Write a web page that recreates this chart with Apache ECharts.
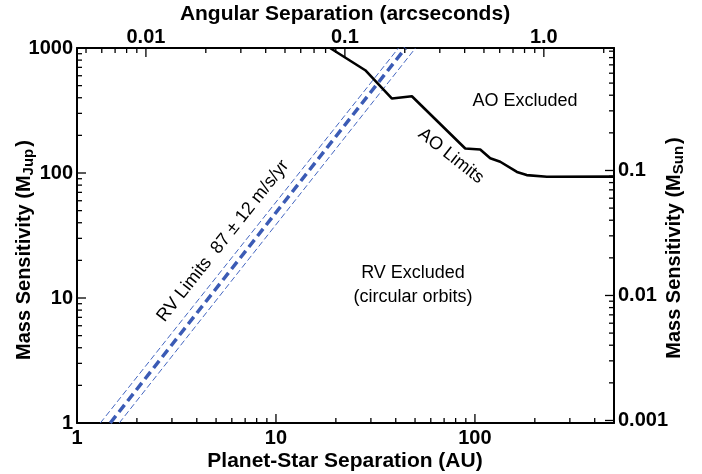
<!DOCTYPE html>
<html><head><meta charset="utf-8">
<script src="https://cdn.jsdelivr.net/npm/echarts@6/dist/echarts.min.js"></script>
<style>html,body{margin:0;padding:0;background:#fff}#c{width:702px;height:474px}</style>
</head><body><div id="c"></div>
<script>
// ---- data ----
const DIST_PC = 222;            // distance used for the angular-separation axis
const MJUP_PER_MSUN = 1047.6;   // mass conversion for right axis
const auRange = [1, 500];
const mjupRange = [1, 1000];
const auMajor = [10, 100];
const auMinor = [2,3,4,5,6,7,8,9,20,30,40,50,60,70,80,90,200,300,400];
const mjupMajor = [10, 100];
const mjupMinor = [2,3,4,5,6,7,8,9,20,30,40,50,60,70,80,90,200,300,400,500,600,700,800,900];
const arcsecTickLabels = ['0.01','0.1','1.0'];
const arcsecMajor = [0.01, 0.1, 1];
const arcsecMinor = [0.005,0.006,0.007,0.008,0.009,0.02,0.03,0.04,0.05,0.06,0.07,0.08,0.09,0.2,0.3,0.4,0.5,0.6,0.7,0.8,0.9,2];
const msunTickLabels = ['0.001','0.01','0.1'];
const msunMajor = [0.001, 0.01, 0.1];
const msunMinor = [0.002,0.003,0.004,0.005,0.006,0.007,0.008,0.009,0.02,0.03,0.04,0.05,0.06,0.07,0.08,0.09,0.2,0.3,0.4,0.5,0.6,0.7,0.8,0.9];
// AO detection limits
const aoSep  = [18.7, 28.1, 38.3, 48.2, 89.4, 106.3, 119.4, 134, 162.6, 182, 230, 500];
const aoMass = [1000, 664, 394, 411, 157, 154, 131, 123, 102, 96.2, 93.3, 93.5];
// RV trend limits (87 +/- 12 m/s/yr)
const rvCenterSep = [1.47, 44.8];
const rvHighSep   = [1.31, 41.3];
const rvLowSep    = [1.63, 50.3];
const rvMass      = [1, 1000];

// ---- layout ----
const W = 702, H = 474;
const GRID = { left: 77, top: 48, right: 88, bottom: 51 };
const MAJOR_LEN = 9, MINOR_LEN = 5;
const pxPerDecX = (W - GRID.left - GRID.right) / Math.log10(auRange[1] / auRange[0]);
const pxPerDecY = (H - GRID.top - GRID.bottom) / Math.log10(mjupRange[1] / mjupRange[0]);
const fx = len => Math.pow(10, len / pxPerDecX);   // log-space factor for a tick of len px along x
const fy = len => Math.pow(10, len / pxPerDecY);

const zip = (xs, ys) => xs.map((x, i) => [x, ys[i]]);
const isPow10 = v => Math.abs(Math.log10(v) - Math.round(Math.log10(v))) < 1e-6;
const FONT = '"Liberation Sans", Arial, Helvetica, sans-serif';
const labelStyle = () => ({ color: '#000', fontWeight: 'bold', fontSize: 20, fontFamily: FONT });

// tick marks drawn as short line segments through the axes' own scales
const tickSeries = [];
function addTicks(values, len, xi, yi, seg) {
  values.forEach(v => tickSeries.push({
    type: 'line', xAxisIndex: xi, yAxisIndex: yi, data: seg(v, len), symbol: 'none', showSymbol: false,
    silent: true, clip: false, z: 6, lineStyle: { color: '#000', width: 1.3 }
  }));
}
const segBottom = (v, l) => [[v, mjupRange[0]], [v, mjupRange[0] * fy(l)]];
const segTop    = (v, l) => [[v, mjupRange[1]], [v, mjupRange[1] / fy(l)]];
const segLeft   = (v, l) => [[auRange[0], v], [auRange[0] * fx(l), v]];
const segRight  = (v, l) => [[auRange[1], v], [auRange[1] / fx(l), v]];
addTicks(auMajor, MAJOR_LEN, 0, 0, segBottom);
addTicks(auMinor, MINOR_LEN, 0, 0, segBottom);
addTicks(arcsecMajor, MAJOR_LEN, 1, 0, segTop);
addTicks(arcsecMinor, MINOR_LEN, 1, 0, segTop);
addTicks(mjupMajor, MAJOR_LEN, 0, 0, segLeft);
addTicks(mjupMinor, MINOR_LEN, 0, 0, segLeft);
addTicks(msunMajor, MAJOR_LEN, 0, 1, segRight);
addTicks(msunMinor, MINOR_LEN, 0, 1, segRight);

const axisLine = () => ({ show: true, lineStyle: { color: '#000', width: 2 } });
const noTick = () => ({ show: false });

const chart = echarts.init(document.getElementById('c'));
chart.setOption({
  animation: false,
  backgroundColor: '#fff',
  grid: GRID,
  xAxis: [
    { type: 'log', logBase: 10, min: auRange[0], max: auRange[1], position: 'bottom',
      axisLine: axisLine(), axisTick: noTick(), splitLine: { show: false },
      axisLabel: Object.assign({ margin: 5, formatter: v => isPow10(v) ? String(Math.round(v)) : '' }, labelStyle()) },
    { type: 'log', logBase: 10, min: auRange[0] / DIST_PC, max: auRange[1] / DIST_PC, position: 'top',
      axisLine: axisLine(), axisTick: noTick(), splitLine: { show: false },
      axisLabel: Object.assign({ margin: 1, showMinLabel: false, showMaxLabel: false,
        formatter: v => isPow10(v) ? arcsecTickLabels[Math.round(Math.log10(v)) + 2] : '' }, labelStyle()) }
  ],
  yAxis: [
    { type: 'log', logBase: 10, min: mjupRange[0], max: mjupRange[1], position: 'left',
      axisLine: axisLine(), axisTick: noTick(), splitLine: { show: false },
      axisLabel: Object.assign({ margin: 4, formatter: v => isPow10(v) ? String(Math.round(v)) : '' }, labelStyle()) },
    { type: 'log', logBase: 10, min: mjupRange[0] / MJUP_PER_MSUN, max: mjupRange[1] / MJUP_PER_MSUN, position: 'right',
      axisLine: axisLine(), axisTick: noTick(), splitLine: { show: false },
      axisLabel: Object.assign({ margin: 4, showMinLabel: false, showMaxLabel: false,
        formatter: v => isPow10(v) ? msunTickLabels[Math.round(Math.log10(v)) + 3] : '' }, labelStyle()) }
  ],
  series: [
    { type: 'line', name: 'RV high', data: zip(rvHighSep, rvMass), showSymbol: false, symbol: 'none',
      lineStyle: { color: '#4466C0', width: 1, type: [6, 3] }, z: 3 },
    { type: 'line', name: 'RV low', data: zip(rvLowSep, rvMass), showSymbol: false, symbol: 'none',
      lineStyle: { color: '#4466C0', width: 1, type: [6, 3] }, z: 3 },
    { type: 'line', name: 'RV center', data: zip(rvCenterSep, rvMass), showSymbol: false, symbol: 'none',
      lineStyle: { color: '#3B5BB5', width: 3.5, type: [9, 5] }, z: 3 },
    { type: 'line', name: 'AO', data: zip(aoSep, aoMass), showSymbol: false, symbol: 'none',
      lineStyle: { color: '#000', width: 2.6 }, z: 4 }
  ].concat(tickSeries),
  graphic: [
    { type: 'text', x: 345, y: 14, style: { text: 'Angular Separation (arcseconds)', font: 'bold 21px ' + FONT, fill: '#000', align: 'center', verticalAlign: 'middle' } },
    { type: 'text', x: 345, y: 461, style: { text: 'Planet-Star Separation (AU)', font: 'bold 21px ' + FONT, fill: '#000', align: 'center', verticalAlign: 'middle' } },
    { type: 'text', x: 24, y: 250, rotation: Math.PI / 2,
      style: { text: '{a|Mass Sensitivity (M}{s|Jup}{a|)}', align: 'center', verticalAlign: 'middle', fill: '#000',
        rich: { a: { font: 'bold 20px ' + FONT, fill: '#000', lineHeight: 24 }, s: { font: 'bold 15px ' + FONT, fill: '#000', padding: [9, 2, 0, 0], lineHeight: 24 } } } },
    { type: 'text', x: 674, y: 248, rotation: Math.PI / 2,
      style: { text: '{a|Mass Sensitivity (M}{s|Sun}{a|)}', align: 'center', verticalAlign: 'middle', fill: '#000',
        rich: { a: { font: 'bold 20px ' + FONT, fill: '#000', lineHeight: 24 }, s: { font: 'bold 15px ' + FONT, fill: '#000', padding: [9, 2, 0, 0], lineHeight: 24 } } } },
    { type: 'text', x: 525, y: 101, style: { text: 'AO Excluded', font: '18px ' + FONT, fill: '#000', align: 'center', verticalAlign: 'middle' } },
    { type: 'text', x: 451, y: 156, rotation: -0.67, style: { text: 'AO Limits', font: '18px ' + FONT, fill: '#000', align: 'center', verticalAlign: 'middle' } },
    { type: 'text', x: 223, y: 241, rotation: 0.9, style: { text: 'RV Limits  87 \u00b1 12 m/s/yr', font: '18px ' + FONT, fill: '#000', align: 'center', verticalAlign: 'middle' } },
    { type: 'text', x: 413, y: 273, style: { text: 'RV Excluded', font: '18px ' + FONT, fill: '#000', align: 'center', verticalAlign: 'middle' } },
    { type: 'text', x: 413, y: 297, style: { text: '(circular orbits)', font: '18px ' + FONT, fill: '#000', align: 'center', verticalAlign: 'middle' } }
  ]
});
</script></body></html>
